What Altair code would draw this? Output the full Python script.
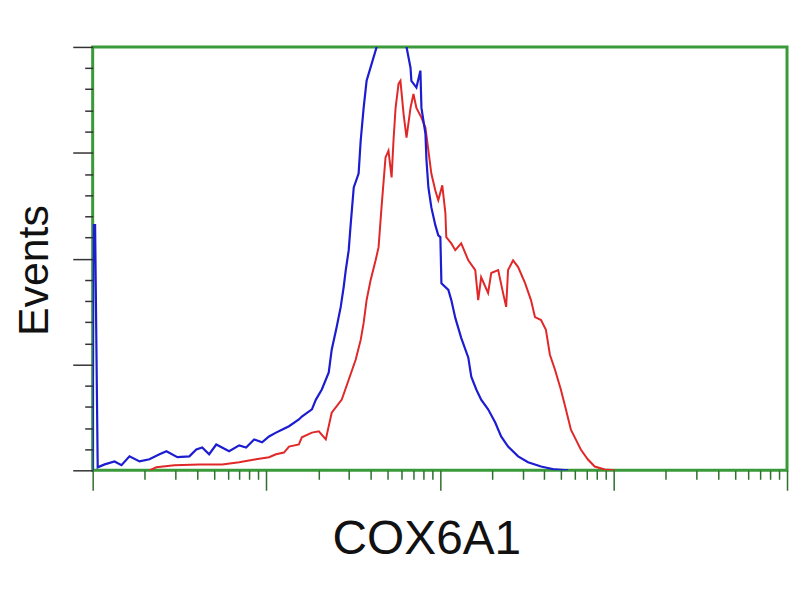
import math
import altair as alt
import pandas as pd

# x: log10 of fluorescence intensity (decades), y: events as % of axis max
blue_x = [0.000, 0.004, 0.014, 0.029, 0.069, 0.126, 0.166, 0.212, 0.270, 0.327, 0.385, 0.425,
          0.488, 0.557, 0.597, 0.631, 0.671, 0.712, 0.786, 0.844, 0.884, 0.930, 0.976, 1.016,
          1.056, 1.090, 1.131, 1.188, 1.205, 1.263, 1.286, 1.320, 1.360, 1.377, 1.406, 1.429,
          1.446, 1.458, 1.475, 1.486, 1.504, 1.532, 1.544, 1.561, 1.578, 1.607, 1.636, 1.680,
          1.750, 1.808, 1.831, 1.836, 1.865, 1.888, 1.894, 1.917, 1.923, 1.934, 1.951, 1.974,
          1.991, 2.003, 2.009, 2.049, 2.066, 2.089, 2.123, 2.164, 2.181, 2.210, 2.238, 2.278,
          2.319, 2.353, 2.393, 2.451, 2.508, 2.583, 2.663, 2.738]
blue_y = [0.0, 57.9, 57.9, 0.7, 1.4, 2.1, 1.2, 3.3, 2.1, 2.6, 3.8, 4.5,
          3.1, 3.3, 4.9, 5.4, 3.8, 6.1, 4.5, 5.9, 5.4, 7.3, 6.6, 8.0,
          8.9, 9.6, 10.4, 12.0, 12.7, 14.4, 16.7, 19.1, 23.1, 28.5, 33.9, 38.6,
          43.3, 47.3, 52.0, 57.9, 66.8, 70.1, 77.9, 85.6, 92.0, 96.0, 100.0, 106.0,
          107.0, 100.0, 95.1, 92.0, 90.4, 94.4, 85.6, 79.5, 73.2, 66.8, 62.1, 57.9,
          55.5, 55.1, 44.2, 42.6, 40.2, 36.0, 31.3, 26.6, 22.1, 19.1, 16.7, 14.4,
          11.3, 8.0, 5.6, 3.3, 1.9, 0.9, 0.2, 0.0]

red_x = [0.327, 0.367, 0.471, 0.614, 0.746, 0.844, 0.941, 1.016, 1.056, 1.102, 1.131, 1.188,
         1.205, 1.263, 1.303, 1.343, 1.377, 1.435, 1.475, 1.515, 1.544, 1.561, 1.578, 1.601,
         1.630, 1.647, 1.664, 1.687, 1.704, 1.722, 1.733, 1.745, 1.762, 1.773, 1.791, 1.808,
         1.831, 1.848, 1.865, 1.894, 1.917, 1.934, 1.951, 1.974, 1.991, 2.014, 2.032, 2.037,
         2.066, 2.089, 2.123, 2.164, 2.204, 2.221, 2.238, 2.278, 2.296, 2.336, 2.364, 2.382,
         2.393, 2.422, 2.451, 2.491, 2.525, 2.548, 2.583, 2.611, 2.634, 2.663, 2.697, 2.726,
         2.755, 2.783, 2.812, 2.852, 2.892, 2.950, 3.007]
red_y = [0.0, 0.7, 1.2, 1.4, 1.4, 1.9, 2.6, 3.1, 3.8, 4.2, 5.6, 6.1,
         7.8, 8.9, 9.2, 7.3, 13.6, 16.7, 21.4, 26.1, 30.8, 34.8, 40.2, 44.9,
         49.6, 52.7, 62.1, 73.9, 75.5, 69.2, 77.9, 85.6, 91.3, 92.0, 84.2, 78.6,
         85.6, 88.9, 85.6, 83.3, 80.9, 75.5, 70.1, 66.1, 63.8, 67.3, 60.7, 55.1,
         53.6, 52.0, 53.6, 49.6, 47.3, 40.2, 45.6, 41.9, 46.6, 47.3, 41.9, 38.6,
         47.3, 49.6, 48.0, 44.2, 40.2, 36.2, 35.5, 33.2, 27.3, 23.8, 19.1, 14.4,
         9.6, 7.3, 4.9, 2.6, 0.9, 0.2, 0.0]

y_ticks = list(range(0, 101, 5))
x_ticks = sorted(set([round(n + math.log10(k), 4) for n in range(4) for k in range(1, 10)] + [4.0]))

blue_df = pd.DataFrame({"x": blue_x, "y": blue_y, "i": range(len(blue_x))})
red_df = pd.DataFrame({"x": red_x, "y": red_y, "i": range(len(red_x))})

xscale = alt.Scale(domain=[0, 4], nice=False, zero=False)
yscale = alt.Scale(domain=[0, 100], nice=False, zero=False)

xaxis = alt.Axis(
    values=x_ticks, tickCount=500, labels=False, grid=False, domain=False,
    tickColor="#2e6e2e", tickWidth=1.5,
    tickSize={"condition": {"test": "round(datum.value) === datum.value", "value": 20}, "value": 9},
    title="COX6A1", titleFont="Liberation Sans", titleFontSize=48, titleFontWeight="normal",
    titleColor="#111111", titleX=335, titleY=70, titleBaseline="middle", titleAlign="center",
)
yaxis = alt.Axis(
    values=y_ticks, tickCount=500, labels=False, grid=False, domain=False,
    tickColor="#333333", tickWidth=1.5,
    tickSize={"condition": {"test": "datum.value % 25 === 0", "value": 20}, "value": 8},
    title="Events", titleFont="Liberation Sans", titleFontSize=43, titleFontWeight="normal",
    titleColor="#111111", titleX=-58, titleY=224, titleBaseline="middle", titleAlign="center",
    titleAngle=270,
)

red = alt.Chart(red_df).mark_line(color="#e02828", strokeWidth=2, clip=True).encode(
    x=alt.X("x:Q", scale=xscale, axis=xaxis),
    y=alt.Y("y:Q", scale=yscale, axis=yaxis),
    order="i:Q",
)
blue = alt.Chart(blue_df).mark_line(color="#1c1cd0", strokeWidth=2.2, clip=True).encode(
    x=alt.X("x:Q", scale=xscale),
    y=alt.Y("y:Q", scale=yscale),
    order="i:Q",
)

chart = alt.layer(red, blue).properties(
    width=697, height=425,
    autosize=alt.AutoSizeParams(type="none"),
    padding={"left": 85, "top": 38, "right": 5, "bottom": 100},
).configure(background="white").configure_view(stroke="#3a9a3a", strokeWidth=3)

chart.save("out.html", embed_options={"renderer": "svg", "actions": False})
